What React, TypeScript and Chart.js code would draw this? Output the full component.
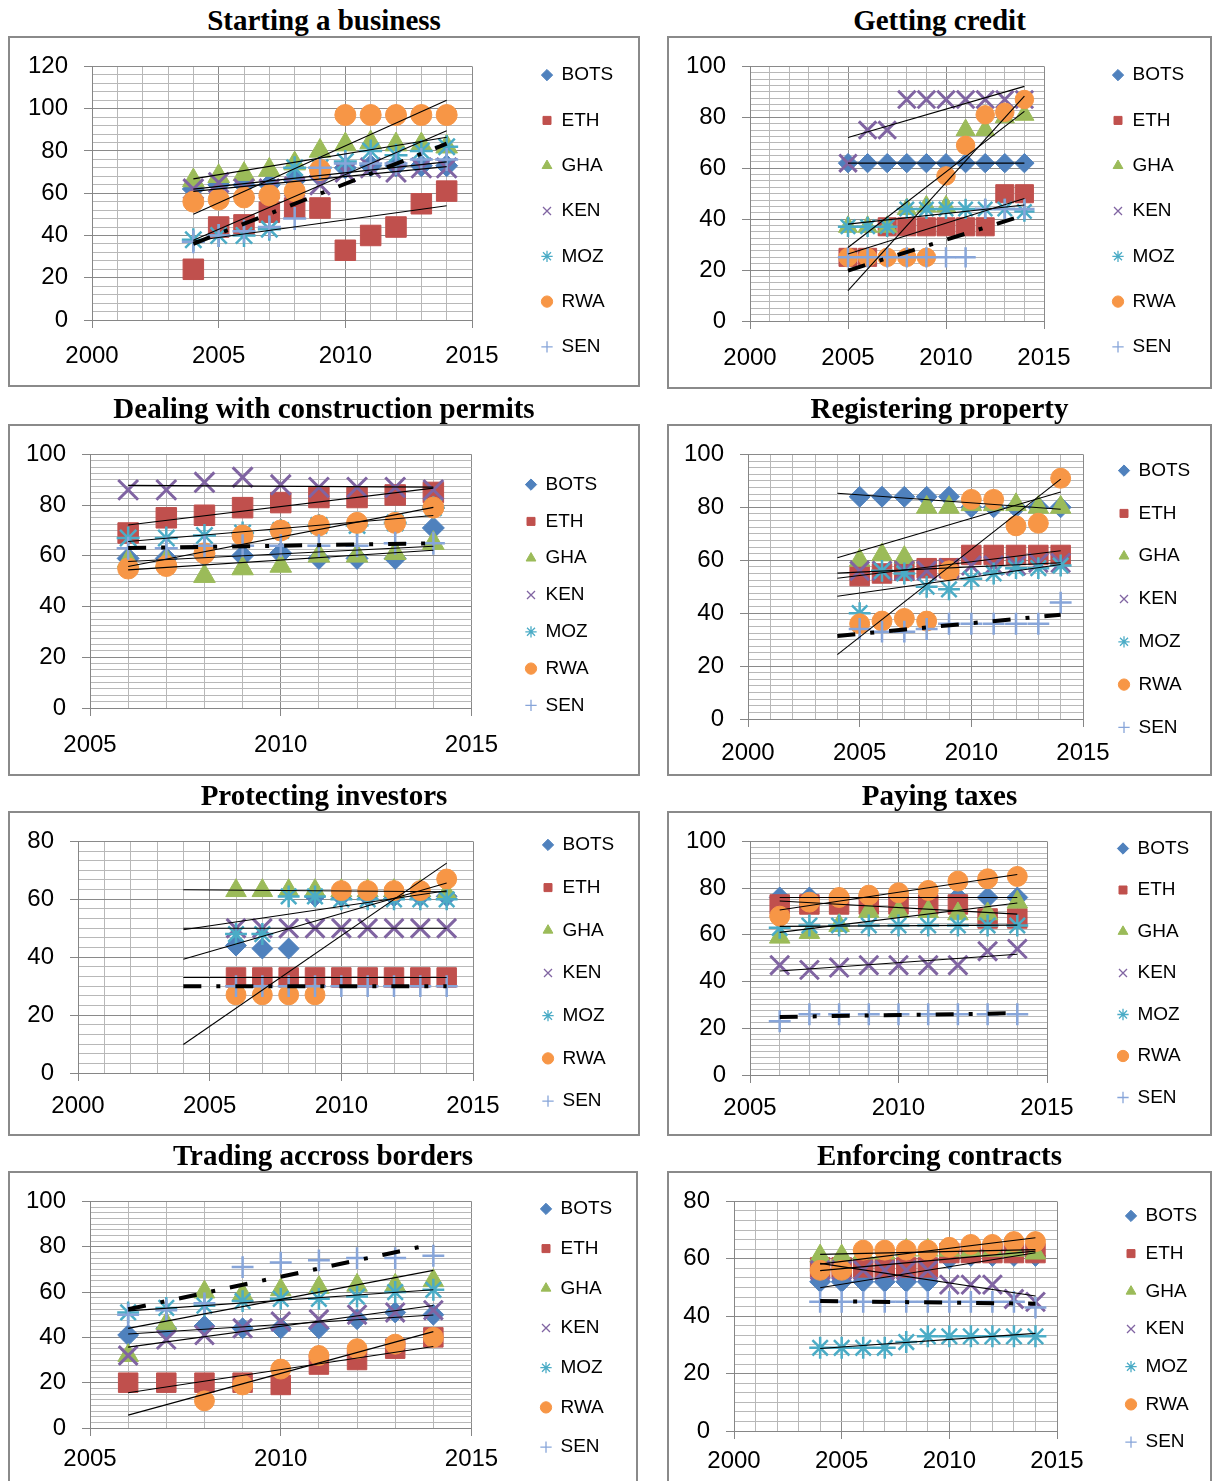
import React, { useEffect, useRef } from 'react';
import { Chart, registerables } from 'chart.js';

Chart.register(...registerables);

// ---------------- series ----------------
const SERIES = ['BOTS', 'ETH', 'GHA', 'KEN', 'MOZ', 'RWA', 'SEN'];

// ---------------- data (one row per series, in SERIES order) ----------------
const businessYears = [2004, 2005, 2006, 2007, 2008, 2009, 2010, 2011, 2012, 2013, 2014];
const businessValues: (number | null)[][] = [
  [62, 64, 64, 64, 66, 68, 72, 73, 73, 73, 73], // BOTS
  [24, 44, 45, 51, 53, 53, 33, 40, 44, 55, 61], // ETH
  [66, 68, 69, 71, 74, 80, 83, 84, 83, 83, 82], // GHA
  [62, 65, 62, 62, 63, 64, 70, 72, 70, 72, 72], // KEN
  [38, 40, 40, 43, 72, 72, 75, 80, 78, 80, 82], // MOZ
  [56, 57, 58, 59, 61, 71, 97, 97, 97, 97, 97], // RWA
  [37, 40, 42, 44, 48, 72, 74, 74, 74, 76, 76], // SEN
];

const creditYears = [2005, 2006, 2007, 2008, 2009, 2010, 2011, 2012, 2013, 2014];
const creditValues: (number | null)[][] = [
  [62, 62, 62, 62, 62, 62, 62, 62, 62, 62],
  [25, 25, 37, 37, 37, 37, 37, 37, 50, 50],
  [37, 37, 37, 44, 45, 45, 75, 75, 80, 81],
  [62, 75, 75, 87, 87, 87, 87, 87, 87, 87],
  [37, 37, 37, 44, 44, 44, 44, 44, 44, 43],
  [25, 25, 25, 25, 25, 57, 69, 81, 82, 87],
  [25, 25, 25, 25, 25, 25, 25, 44, 44, 44],
];

const permitYears = [2006, 2007, 2008, 2009, 2010, 2011, 2012, 2013, 2014];
const permitValues: (number | null)[][] = [
  [59, 59, 60, 60, 61, 59, 59, 59, 71],
  [69, 75, 76, 79, 81, 83, 83, 84, 85],
  [58, 58, 52, 55, 56, 60, 60, 61, 65],
  [86, 86, 89, 91, 88, 87, 87, 87, 86],
  [67, 67, 68, 69, 70, 72, 72, 73, 79],
  [55, 56, 61, 68, 70, 72, 73, 73, 79],
  [63, 63, 64, 64, 64, 64, 64, 65, 65],
];

const propertyYears = [2005, 2006, 2007, 2008, 2009, 2010, 2011, 2012, 2013, 2014];
const propertyValues: (number | null)[][] = [
  [84, 84, 84, 84, 84, 80, 80, 80, 80, 80],
  [54, 55, 56, 57, 57, 62, 62, 62, 62, 62],
  [60, 62, 61, 80, 80, 81, 81, 81, 80, 80],
  [56, 56, 56, 56, 57, 58, 58, 58, 59, 59],
  [40, 56, 55, 50, 49, 53, 55, 57, 57, 58],
  [36, 37, 38, 37, 56, 83, 83, 73, 74, 91],
  [34, 33, 33, 34, 36, 36, 36, 36, 36, 44],
];

const investorYears = [2006, 2007, 2008, 2009, 2010, 2011, 2012, 2013, 2014];
const investorValues: (number | null)[][] = [
  [44, 43, 43, 61, 61, 61, 61, 61, 61],
  [33, 33, 33, 33, 33, 33, 33, 33, 33],
  [63, 63, 63, 63, 63, 63, 63, 63, 62],
  [50, 50, 50, 50, 50, 50, 50, 50, 50],
  [48, 48, 61, 61, 60, 60, 60, 60, 60],
  [27, 27, 27, 27, 63, 63, 63, 63, 67],
  [30, 30, 30, 30, 30, 30, 30, 30, 30],
];

const taxYears = [2006, 2007, 2008, 2009, 2010, 2011, 2012, 2013, 2014];
const taxValues: (number | null)[][] = [
  [76, 76, 76, 76, 76, 76, 76, 76, 76],
  [73, 73, 73, 73, 73, 73, 73, 67, 67],
  [59, 61, 64, 70, 70, 70, 69, 69, 74],
  [47, 45, 46, 47, 47, 47, 47, 53, 54],
  [63, 64, 64, 64, 64, 64, 64, 64, 64],
  [68, 74, 76, 77, 78, 79, 83, 84, 85],
  [23, 26, 26, 26, 26, 26, 26, 26, 26],
];

const tradeYears = [2006, 2007, 2008, 2009, 2010, 2011, 2012, 2013, 2014];
const tradeValues: (number | null)[][] = [
  [41, 44, 45, 44, 44, 44, 48, 51, 50],
  [20, 20, 20, 20, 19, 28, 30, 35, 40],
  [32, 46, 60, 59, 61, 62, 63, 63, 65],
  [32, 39, 41, 44, 47, 48, 50, 51, 52],
  [51, 53, 54, 56, 57, 57, 58, 60, 61],
  [null, null, 12, 19, 26, 32, 35, 37, 40],
  [50, 52, 55, 71, 73, 74, 75, 75, 76],
];

const contractYears = [2004, 2005, 2006, 2007, 2008, 2009, 2010, 2011, 2012, 2013, 2014];
const contractValues: (number | null)[][] = [
  [52, 52, 52, 52, 52, 52, 60, 61, 61, 61, 61],
  [57, 57, 57, 57, 57, 57, 62, 62, 62, 62, 62],
  [61, 61, 62, 62, 63, 63, 63, 63, 63, 63, 62],
  [56, 56, 56, 56, 56, 56, 51, 51, 51, 46, 45],
  [29, 29, 29, 29, 31, 33, 33, 33, 33, 33, 33],
  [56, 56, 63, 63, 63, 63, 64, 65, 65, 66, 66],
  [45, 45, 45, 45, 45, 45, 45, 45, 45, 45, 43],
];

// ---------------- styles ----------------
const SANS = "'Liberation Sans', Arial, sans-serif";
const SERIF = "'Liberation Serif', 'Times New Roman', serif";
const COLORS = ['#4F81BD', '#C0504D', '#9BBB59', '#8064A2', '#4BACC6', '#F79646', '#87A5D9'];
const POINT_STYLES = ['rectRot', 'rect', 'triangle', 'crossRot', 'star', 'circle', 'cross'];
const POINT_RADII = [11, 14.5, 12.5, 14, 11.5, 10.5, 11.5];
const POINT_BORDER = [1, 1, 1, 3, 2.5, 1, 2.5];
const LEGEND_LINE = [1, 1, 1, 1.3, 1.3, 1, 1.3];
const LEGEND_FONT = 19;
const LEGEND_BOX_W = 10;
const TICK_FONT = 24;
const GRID_MAJOR = '#8a8a8a';
const GRID_MINOR = '#b8b8b8';
const AXIS_COLOR = '#868686';

type PanelSpec = {
  title: string;
  years: number[];
  values: (number | null)[][];
  frame: [number, number, number, number]; // x, y, w, h
  plot: [number, number, number, number]; // left, top, right, bottom
  xRange: [number, number];
  yMax: number;
  yMinor: number;
  legendX: number;
  legendY: number;
  legendGap: number;
  trendFrom: number;
  titleTop: number;
  xLabelGap: number;
  markerScale: number;
};

const PANELS: PanelSpec[] = [
  { title: 'Starting a business', years: businessYears, values: businessValues,
    frame: [8, 36, 632, 351], plot: [92, 64, 472, 320], xRange: [2000, 2015], yMax: 120, yMinor: 4,
    legendX: 547, legendY: 211, legendGap: 45.3, trendFrom: 2004, titleTop: 3, xLabelGap: 36, markerScale: 1 },
  { title: 'Getting credit', years: creditYears, values: creditValues,
    frame: [667, 36, 545, 353], plot: [750, 64, 1044, 321], xRange: [2000, 2015], yMax: 100, yMinor: 2.5,
    legendX: 1118, legendY: 211, legendGap: 45.3, trendFrom: 2005, titleTop: 3, xLabelGap: 37, markerScale: 0.88 },
  { title: 'Dealing with construction permits', years: permitYears, values: permitValues,
    frame: [8, 424, 632, 352], plot: [90, 453, 471.5, 708], xRange: [2005, 2015], yMax: 100, yMinor: 2.5,
    legendX: 531, legendY: 595, legendGap: 36.8, trendFrom: 2006, titleTop: 391, xLabelGap: 37, markerScale: 1 },
  { title: 'Registering property', years: propertyYears, values: propertyValues,
    frame: [667, 424, 545, 352], plot: [748, 448, 1083, 719], xRange: [2000, 2015], yMax: 100, yMinor: 2.5,
    legendX: 1124, legendY: 599, legendGap: 42.8, trendFrom: 2004, titleTop: 391, xLabelGap: 34, markerScale: 0.95 },
  { title: 'Protecting investors', years: investorYears, values: investorValues,
    frame: [8, 811, 632, 325], plot: [78, 839, 473, 1073], xRange: [2000, 2015], yMax: 80, yMinor: 10 / 3,
    legendX: 548, legendY: 973, legendGap: 42.7, trendFrom: 2004, titleTop: 778, xLabelGap: 33, markerScale: 0.95 },
  { title: 'Paying taxes', years: taxYears, values: taxValues,
    frame: [667, 811, 545, 325], plot: [750, 838, 1047, 1075], xRange: [2005, 2015], yMax: 100, yMinor: 2.5,
    legendX: 1123, legendY: 973, legendGap: 41.5, trendFrom: 2006, titleTop: 778, xLabelGap: 33, markerScale: 0.95 },
  { title: 'Trading accross borders', years: tradeYears, values: tradeValues,
    frame: [8, 1171, 630, 312], plot: [90, 1196, 471.5, 1428], xRange: [2005, 2015], yMax: 100, yMinor: 2.5,
    legendX: 546, legendY: 1328, legendGap: 39.7, trendFrom: 2006, titleTop: 1138, xLabelGap: 31, markerScale: 0.95 },
  { title: 'Enforcing contracts', years: contractYears, values: contractValues,
    frame: [667, 1171, 545, 312], plot: [734, 1195, 1057, 1431], xRange: [2000, 2015], yMax: 80, yMinor: 10 / 3,
    legendX: 1131, legendY: 1329, legendGap: 37.7, trendFrom: 2004, titleTop: 1138, xLabelGap: 30, markerScale: 0.95 },
];

const isMajorY = (v: number) => Math.abs(v / 20 - Math.round(v / 20)) < 1e-6;
const isMajorX = (v: number) => Math.abs(v / 5 - Math.round(v / 5)) < 1e-6;

function linearFit(xs: number[], ys: (number | null)[]) {
  const pts = xs.map((x, i) => [x, ys[i]] as [number, number | null]).filter((p) => p[1] != null) as [number, number][];
  const n = pts.length;
  const mx = pts.reduce((s, p) => s + p[0], 0) / n;
  const my = pts.reduce((s, p) => s + p[1], 0) / n;
  let sxy = 0;
  let sxx = 0;
  pts.forEach(([x, y]) => {
    sxy += (x - mx) * (y - my);
    sxx += (x - mx) * (x - mx);
  });
  const b = sxx === 0 ? 0 : sxy / sxx;
  const a = my - b * mx;
  return { f: (x: number) => a + b * x, last: Math.max(...pts.map((p) => p[0])) };
}

function Panel({ p }: { p: PanelSpec }) {
  const ref = useRef<HTMLCanvasElement>(null);
  const [fx, fy, W, H] = p.frame;

  useEffect(() => {
    const canvas = ref.current;
    if (!canvas) return;
    const plotL = p.plot[0] - fx;
    const plotT = p.plot[1] - fy;
    const plotR = p.plot[2] - fx;
    const plotB = p.plot[3] - fy;
    const lc = p.legendY - fy;
    const padT = Math.max(0, 2 * lc - H);
    const padB = Math.max(0, H - 2 * lc);
    const legendPad = p.legendGap - LEGEND_FONT;

    const meas = document.createElement('canvas').getContext('2d')!;
    meas.font = `${LEGEND_FONT}px ${SANS}`;
    const textW = Math.max(...SERIES.map((s) => meas.measureText(s).width));
    const itemW = LEGEND_BOX_W + LEGEND_FONT / 2 + textW;
    const markerLeft = p.legendX - fx - LEGEND_BOX_W / 2;
    const padR = Math.max(0, W - markerLeft - itemW - 10);
    const spacerW = Math.max(0, markerLeft - legendPad - plotR);
    const topSpacer = Math.max(0, plotT - padT);
    const xAxisH = H - padB - plotB;

    const datasets: any[] = [];
    SERIES.forEach((name, i) => {
      const pts = p.years
        .map((x, k) => ({ x, y: p.values[i][k] }))
        .filter((d) => d.y != null);
      const r = POINT_RADII[i] * p.markerScale;
      datasets.push({
        label: name,
        data: pts,
        xAxisID: 'x',
        yAxisID: 'y',
        showLine: false,
        pointStyle: POINT_STYLES[i],
        pointRadius: r,
        pointHoverRadius: r,
        backgroundColor: COLORS[i],
        borderColor: COLORS[i],
        pointBorderWidth: POINT_BORDER[i],
        order: 100 - i,
        clip: false,
      });
    });
    SERIES.forEach((name, i) => {
      const { f, last } = linearFit(p.years, p.values[i]);
      const isSen = name === 'SEN';
      datasets.push({
        label: name + ' trend',
        data: [
          { x: p.trendFrom, y: f(p.trendFrom) },
          { x: last, y: f(last) },
        ],
        xAxisID: 'x',
        yAxisID: 'y',
        showLine: true,
        pointRadius: 0,
        pointHoverRadius: 0,
        borderColor: '#000',
        backgroundColor: '#000',
        borderWidth: isSen ? 4 : 1.1,
        borderDash: isSen ? [18, 15, 4, 15] : [],
        order: 50 - i,
      });
    });

    const chart = new Chart(canvas, {
      type: 'scatter',
      data: { datasets },
      options: {
        responsive: false,
        animation: false,
        events: [],
        layout: { padding: { left: 0, top: padT, right: padR, bottom: padB } },
        scales: {
          x: {
            type: 'linear',
            position: 'bottom',
            min: p.xRange[0],
            max: p.xRange[1],
            ticks: {
              stepSize: 1,
              autoSkip: false,
              maxRotation: 0,
              padding: p.xLabelGap - 8 - TICK_FONT * 0.6,
              color: '#000',
              font: { family: SANS, size: TICK_FONT },
              callback: (v: any) => (isMajorX(Number(v)) ? String(Math.round(Number(v))) : ''),
            },
            grid: {
              color: (ctx: any) => (ctx.tick && isMajorX(ctx.tick.value) ? GRID_MAJOR : GRID_MINOR),
              tickColor: (ctx: any) => (ctx.tick && isMajorX(ctx.tick.value) ? AXIS_COLOR : 'rgba(0,0,0,0)'),
              lineWidth: 1,
              tickLength: 8,
            },
            border: { display: true, color: AXIS_COLOR, width: 1 },
            afterFit: (s: any) => {
              s.height = xAxisH;
            },
          },
          y: {
            type: 'linear',
            position: 'left',
            min: 0,
            max: p.yMax,
            ticks: {
              stepSize: p.yMinor,
              autoSkip: false,
              padding: 16,
              color: '#000',
              font: { family: SANS, size: TICK_FONT },
              callback: (v: any) => (isMajorY(Number(v)) ? String(Math.round(Number(v))) : ''),
            },
            grid: {
              color: (ctx: any) => (ctx.tick && isMajorY(ctx.tick.value) ? GRID_MAJOR : GRID_MINOR),
              tickColor: (ctx: any) => (ctx.tick && isMajorY(ctx.tick.value) ? AXIS_COLOR : 'rgba(0,0,0,0)'),
              lineWidth: 1,
              tickLength: 8,
            },
            border: { display: true, color: AXIS_COLOR, width: 1 },
            afterFit: (s: any) => {
              s.width = plotL;
            },
          },
          padTop: {
            type: 'linear',
            position: 'top',
            display: true,
            grid: { display: false, drawTicks: false },
            border: { display: false },
            ticks: { display: false },
            afterFit: (s: any) => {
              s.height = topSpacer;
            },
          },
          padRight: {
            type: 'linear',
            position: 'right',
            display: true,
            grid: { display: false, drawTicks: false },
            border: { display: false },
            ticks: { display: false },
            afterFit: (s: any) => {
              s.width = spacerW;
            },
          },
        } as any,
        plugins: {
          tooltip: { enabled: false },
          legend: {
            display: true,
            position: 'right',
            align: 'center',
            maxWidth: 400,
            labels: {
              usePointStyle: true,
              boxWidth: LEGEND_BOX_W,
              boxHeight: 8,
              padding: legendPad,
              color: '#000',
              font: { family: SANS, size: LEGEND_FONT },
              filter: (item: any) => item.datasetIndex < SERIES.length,
              sort: (a: any, b: any) => a.datasetIndex - b.datasetIndex,
              generateLabels: (c: any) =>
                (Chart.defaults.plugins.legend.labels.generateLabels as any)(c).map((it: any) => ({
                  ...it,
                  lineWidth: LEGEND_LINE[it.datasetIndex] ?? 1,
                  fontColor: '#000',
                })),
            },
          },
        },
      } as any,
    });
    return () => chart.destroy();
  }, []);

  return (
    <>
      <div
        style={{
          position: 'absolute',
          left: fx,
          top: p.titleTop,
          width: W,
          textAlign: 'center',
          fontFamily: SERIF,
          fontWeight: 'bold',
          fontSize: 29,
          lineHeight: '34px',
          color: '#000',
          whiteSpace: 'nowrap',
        }}
      >
        {p.title}
      </div>
      <canvas
        ref={ref}
        width={W}
        height={H}
        style={{ position: 'absolute', left: fx, top: fy, width: W, height: H, background: '#fff' }}
      />
      <div
        style={{
          position: 'absolute',
          left: fx,
          top: fy,
          width: W,
          height: H,
          border: '2px solid #8a8a8a',
          boxSizing: 'border-box',
          pointerEvents: 'none',
        }}
      />
    </>
  );
}

export default function App() {
  return (
    <div
      style={{
        position: 'absolute',
        left: 0,
        top: 0,
        width: 1213,
        height: 1481,
        background: '#fff',
        overflow: 'hidden',
      }}
    >
      {PANELS.map((p) => (
        <Panel key={p.title} p={p} />
      ))}
    </div>
  );
}
